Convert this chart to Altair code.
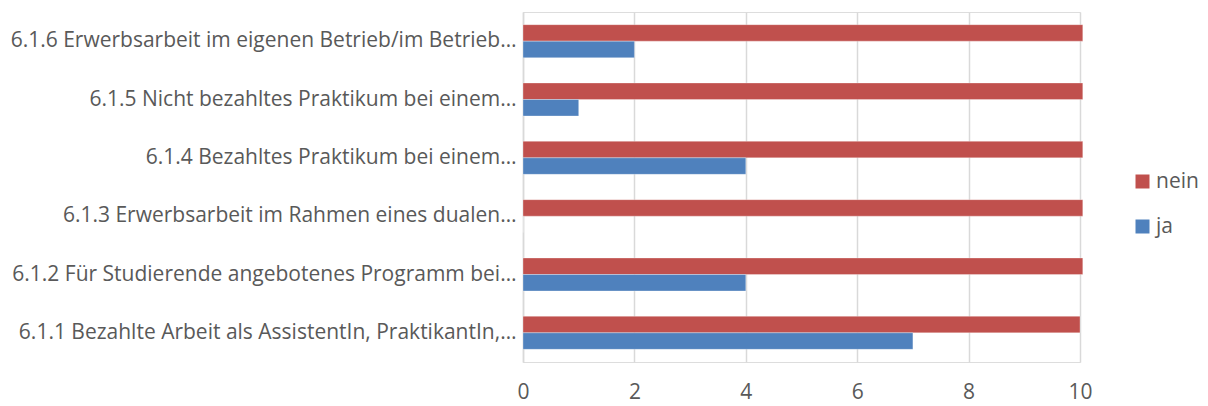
import altair as alt
import pandas as pd

categories = [
    "6.1.6 Erwerbsarbeit im eigenen Betrieb/im Betrieb…",
    "6.1.5 Nicht bezahltes Praktikum bei einem…",
    "6.1.4 Bezahltes Praktikum bei einem…",
    "6.1.3 Erwerbsarbeit im Rahmen eines dualen…",
    "6.1.2 Für Studierende angebotenes Programm bei…",
    "6.1.1 Bezahlte Arbeit als AssistentIn, PraktikantIn,…",
]
nein = [10.05, 10.05, 10.05, 10.05, 10.05, 10.0]
ja = [2, 1, 4, 0, 4, 7]
series = ["nein", "ja"]
colors = ["#C0504D", "#4F81BD"]
x_ticks = [0, 2, 4, 6, 8, 10]

rows = []
for c, n, j in zip(categories, nein, ja):
    rows.append({"cat": c, "series": "nein", "value": n})
    rows.append({"cat": c, "series": "ja", "value": j})
df = pd.DataFrame(rows)

FONT = "Open Sans"
TXT = "#595959"
FS = 21

chart = alt.Chart(df).mark_bar(stroke="#ffffff", strokeWidth=0.6, strokeOpacity=0.5).encode(
    y=alt.Y("cat:N", sort=categories, title=None,
            scale=alt.Scale(paddingInner=0.434, paddingOuter=0.217),
            axis=alt.Axis(ticks=False, domain=True, domainColor="#d9d9d9", domainWidth=1.5,
                          labelFont=FONT, labelFontSize=FS, labelColor=TXT,
                          labelPadding=7, labelLimit=600, grid=False)),
    x=alt.X("value:Q", title=None,
            scale=alt.Scale(domain=[0, 10], nice=False),
            axis=alt.Axis(values=x_ticks, ticks=False, domain=False, grid=True,
                          gridColor="#d9d9d9", gridWidth=1.5, labelFlush=False,
                          labelFont=FONT, labelFontSize=FS, labelColor=TXT,
                          labelPadding=19)),
    yOffset=alt.YOffset("series:N", sort=series, scale=alt.Scale(paddingInner=0, paddingOuter=0)),
    color=alt.Color("series:N", sort=series,
                    scale=alt.Scale(domain=series, range=colors),
                    legend=alt.Legend(title=None, orient="none", legendX=609, legendY=159,
                                      symbolType="square", symbolSize=196, symbolStrokeWidth=0,
                                      labelFont=FONT, labelFontSize=FS, labelColor=TXT,
                                      labelLimit=200, rowPadding=23, labelOffset=3)),
).properties(
    width=557, height=350,
    padding={"left": 515, "top": 4, "right": 120, "bottom": 44},
    autosize=alt.AutoSizeParams(type="none"),
).configure_view(stroke=None).configure(background="#ffffff")

chart.save("out.html", embed_options={"renderer": "svg", "actions": False})
